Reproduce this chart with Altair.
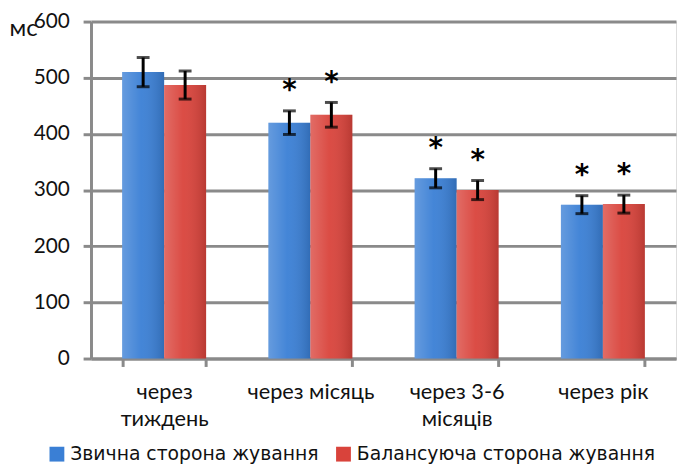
import json
import altair as alt
import pandas as pd

categories = ["через тиждень", "через місяць", "через 3-6 місяців", "через рік"]
category_lines = [["через", "тиждень"], ["через місяць"], ["через 3-6", "місяців"], ["через рік"]]
series = ["Звична сторона жування", "Балансуюча сторона жування"]
usual = [510, 420, 321, 274]
usual_err = [26, 21, 17, 16]
balance = [487, 434, 300, 275]
balance_err = [25, 22, 17, 16]
usual_sig = [False, True, True, True]
balance_sig = [False, True, True, True]
y_ticks = [0, 100, 200, 300, 400, 500, 600]
colors = ["#3a7fd5", "#d9433b"]

rows = []
for i, c in enumerate(categories):
    for s, v, e, sig in ((series[0], usual, usual_err, usual_sig), (series[1], balance, balance_err, balance_sig)):
        rows.append(dict(cat=c, series=s, value=v[i], lo=v[i] - e[i], hi=v[i] + e[i], star="*" if sig[i] else ""))
df = pd.DataFrame(rows)

label_expr = ""
for c, lines in zip(categories, category_lines):
    if len(lines) > 1:
        label_expr += f"datum.value == {json.dumps(c, ensure_ascii=False)} ? {json.dumps(lines, ensure_ascii=False)} : "
label_expr += "datum.value"

GRAY = "#8a8a8a"
FONT = "Lato"

x = alt.X(
    "cat:N", sort=categories, title=None,
    scale=alt.Scale(paddingInner=0.426, paddingOuter=0.213),
    axis=alt.Axis(
        labelAngle=0, labelExpr=label_expr, labelFont=FONT, labelFontSize=22,
        labelColor="#111111", labelPadding=15, labelLineHeight=28,
        domainColor=GRAY, domainWidth=3, tickColor=GRAY, tickWidth=3, tickSize=8,
        tickBand="extent", grid=False,
    ),
)
xoff = alt.XOffset("series:N", sort=series, scale=alt.Scale(paddingInner=0, paddingOuter=0))
y = alt.Y(
    "value:Q",
    scale=alt.Scale(domain=[0, 600], nice=False),
    axis=alt.Axis(
        values=y_ticks, title="мс", titleAngle=0, titleX=-83, titleY=14,
        titleAlign="left", titleBaseline="alphabetic", titleFont=FONT,
        titleFontSize=24, titleFontWeight="normal", titleColor="#111111",
        labelFont=FONT, labelFontSize=21, labelColor="#111111", labelPadding=14,
        grid=True, gridColor=GRAY, gridWidth=3,
        domainColor=GRAY, domainWidth=3, tickColor=GRAY, tickWidth=3, tickSize=8,
    ),
)
color = alt.Color(
    "series:N", sort=series,
    scale=alt.Scale(domain=series, range=colors),
    legend=alt.Legend(
        title=None, orient="none", legendX=-44, legendY=428, direction="horizontal",
        symbolType="square", symbolSize=225, symbolStrokeWidth=0,
        labelFont="DejaVu Sans", labelFontSize=19, labelColor="#111111", labelLimit=0,
        columnPadding=15, labelOffset=4, padding=0,
    ),
)

base = alt.Chart(df)

bars = base.mark_bar().encode(x=x, xOffset=xoff, y=y, color=color)

shade = base.mark_bar(
    fill=alt.Gradient(
        gradient="linear", x1=0, x2=1, y1=0, y2=0,
        stops=[
            alt.GradientStop(color="rgba(255,255,255,0.22)", offset=0),
            alt.GradientStop(color="rgba(255,255,255,0.05)", offset=0.45),
            alt.GradientStop(color="rgba(0,0,0,0.15)", offset=1),
        ],
    )
).encode(x=alt.X("cat:N", sort=categories), xOffset=xoff, y=alt.Y("value:Q"))

err = base.mark_rule(color="black", strokeWidth=3).encode(
    x=alt.X("cat:N", sort=categories), xOffset=xoff, y=alt.Y("lo:Q"), y2="hi:Q"
)
cap_lo = base.mark_tick(color="black", thickness=3, size=13).encode(
    x=alt.X("cat:N", sort=categories), xOffset=xoff, y=alt.Y("lo:Q")
)
cap_hi = base.mark_tick(color="black", thickness=3, size=13).encode(
    x=alt.X("cat:N", sort=categories), xOffset=xoff, y=alt.Y("hi:Q")
)
stars = base.mark_text(
    font="DejaVu Sans", fontWeight="bold", fontSize=28, color="black",
    baseline="alphabetic", dy=-12,
).encode(x=alt.X("cat:N", sort=categories), xOffset=xoff, y=alt.Y("hi:Q"), text="star:N")

chart = alt.layer(bars, shade, err, cap_lo, cap_hi, stars).properties(
    width=592, height=341,
    autosize=alt.AutoSizeParams(type="none"),
    padding={"left": 84, "top": 11, "right": 1, "bottom": 106},
).configure_view(stroke=None).configure(background="white")

chart.save("out.html", embed_options={"renderer": "svg", "actions": False})
